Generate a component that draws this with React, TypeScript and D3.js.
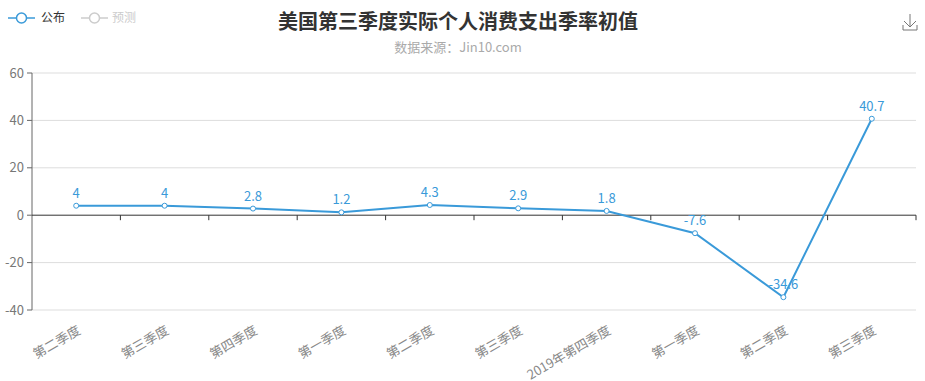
import React from "react";
import * as d3 from "d3";

const categories = ["第二季度", "第三季度", "第四季度", "第一季度", "第二季度", "第三季度", "2019年第四季度", "第一季度", "第二季度", "第三季度"];
const published = [4, 4, 2.8, 1.2, 4.3, 2.9, 1.8, -7.6, -34.6, 40.7];
const yTicks = [-40, -20, 0, 20, 40, 60];
const legendNames = ["公布", "预测"];
const titleText = "美国第三季度实际个人消费支出季率初值";
const subtitleText = "数据来源：Jin10.com";

const W = 925, H = 381;
const margin = { left: 32, right: 9, top: 73, bottom: 71 };
const FONT = "'Noto Sans CJK SC', 'Noto Sans', sans-serif";
const BLUE = "#3a9ad9";

export default function App() {
  const idx = categories.map((_, i) => String(i));
  const x = d3.scaleBand().domain(idx).range([margin.left, W - margin.right]).padding(0);
  const y = d3.scaleLinear().domain([-40, 60]).range([H - margin.bottom, margin.top]);
  const cx = (i: number) => (x(String(i)) as number) + x.bandwidth() / 2;
  const line = d3.line<number>().x((_, i) => cx(i)).y((d) => y(d));
  const y0 = y(0);
  const bottom = y(-40);
  return (
    <svg width={W} height={H} style={{ position: "absolute", left: 0, top: 0, fontFamily: FONT }}>
      {/* legend */}
      <g>
        <line x1={8} x2={35} y1={18} y2={18} stroke={BLUE} strokeWidth={1.5} />
        <circle cx={21.5} cy={18} r={5} fill="#fff" stroke={BLUE} strokeWidth={1.5} />
        <text x={41} y={22} fontSize={12} fill="#333">{legendNames[0]}</text>
        <line x1={81} x2={108} y1={18} y2={18} stroke="#ccc" strokeWidth={1.5} />
        <circle cx={94.5} cy={18} r={5} fill="#fff" stroke="#ccc" strokeWidth={1.5} />
        <text x={112} y={22} fontSize={12} fill="#ccc">{legendNames[1]}</text>
      </g>
      {/* title */}
      <text x={458} y={29} textAnchor="middle" fontSize={20} fontWeight="bold" fill="#333">{titleText}</text>
      <text x={458} y={52} textAnchor="middle" fontSize={13} fill="#aaa">{subtitleText}</text>
      {/* download icon */}
      <g stroke="#777" strokeWidth={1} fill="none">
        <path d="M910,14 V27 M904,21 L910,27 L916,21" />
        <path d="M903,25 V30 H917 V25" />
      </g>
      {/* grid */}
      {yTicks.filter((t) => t !== 0).map((t) => (
        <line key={t} x1={margin.left} x2={W - margin.right} y1={y(t)} y2={y(t)} stroke="#ddd" strokeWidth={1} />
      ))}
      {/* y axis */}
      <line x1={margin.left} x2={margin.left} y1={y(60)} y2={bottom} stroke="#666" strokeWidth={1} />
      {yTicks.map((t) => (
        <g key={t}>
          <line x1={margin.left - 5} x2={margin.left} y1={y(t)} y2={y(t)} stroke="#666" />
          <text x={margin.left - 8} y={y(t)} dy="0.35em" textAnchor="end" fontSize={13} fill="#777">{t}</text>
        </g>
      ))}
      {/* x axis at zero */}
      <line x1={margin.left} x2={W - margin.right} y1={y0} y2={y0} stroke="#333" strokeWidth={1} />
      {categories.map((_, i) => (
        <line key={i} x1={(x(String(i)) as number) + x.bandwidth()} x2={(x(String(i)) as number) + x.bandwidth()} y1={y0} y2={y0 + 5} stroke="#333" />
      ))}
      {categories.map((c, i) => (
        <text key={i} transform={`translate(${cx(i) + 3},${bottom + 19}) rotate(-30)`} textAnchor="end" dy="0.35em" fontSize={13} fill="#888">{c}</text>
      ))}
      {/* line */}
      <path d={line(published) || ""} fill="none" stroke={BLUE} strokeWidth={2} />
      {published.map((v, i) => (
        <g key={i}>
          <circle cx={cx(i)} cy={y(v)} r={2.5} fill="#fff" stroke={BLUE} strokeWidth={1} />
          <text x={cx(i)} y={y(v) - 8} textAnchor="middle" fontSize={13} fill={BLUE}>{v}</text>
        </g>
      ))}
    </svg>
  );
}
